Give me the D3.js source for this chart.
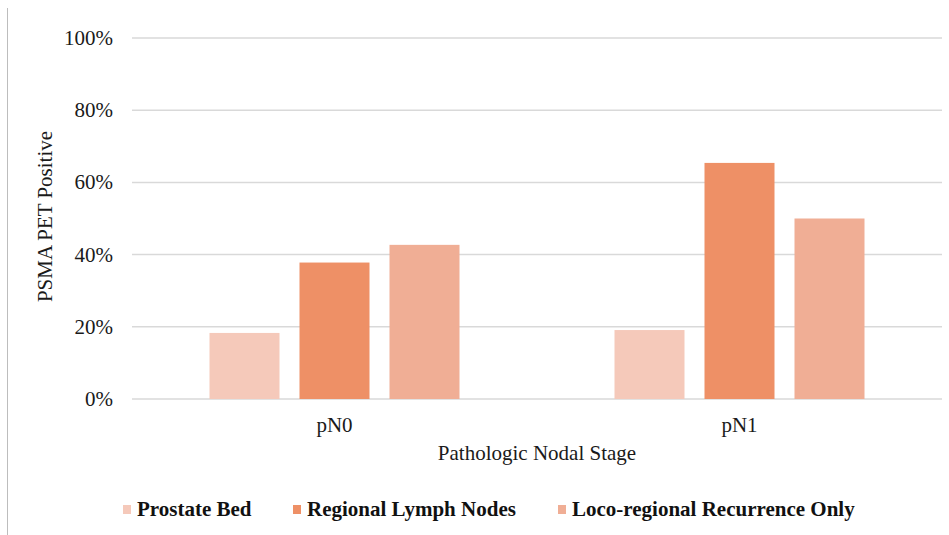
<!DOCTYPE html>
<html>
<head>
<meta charset="utf-8">
<script src="https://cdn.jsdelivr.net/npm/d3@7"></script>
<style>
  body { margin: 0; background: #fff; }
  svg { display: block; font-family: "Liberation Serif", "Times New Roman", serif; }
</style>
</head>
<body>
<svg id="chart" width="949" height="535"></svg>
<script>
  var categories = ["pN0", "pN1"];
  var seriesNames = ["Prostate Bed", "Regional Lymph Nodes", "Loco-regional Recurrence Only"];
  var prostateBed = [18.3, 19.1];
  var regionalLymphNodes = [37.8, 65.4];
  var locoRegionalOnly = [42.7, 50.0];
  var yTicks = [0, 20, 40, 60, 80, 100];

  var seriesValues = [prostateBed, regionalLymphNodes, locoRegionalOnly];
  var colors = d3.scaleOrdinal(seriesNames, ["#f5c9ba", "#ee9066", "#f0ae95"]);

  var width = 949, height = 535;
  var x0 = 132, x1 = 942, y0 = 399, y1 = 38;

  var chart = d3.select("#chart");

  // left border line of the figure
  chart.append("line")
    .attr("x1", 7.5).attr("x2", 7.5)
    .attr("y1", 8).attr("y2", height)
    .attr("stroke", "#bdbdbd").attr("stroke-width", 1);

  var x = d3.scaleBand().domain(categories).range([x0, x1]);
  var groupWidth = 250;
  var xInner = d3.scaleBand().domain(seriesNames)
    .range([(x.bandwidth() - groupWidth) / 2, (x.bandwidth() + groupWidth) / 2])
    .paddingInner(20 / 90);
  var y = d3.scaleLinear().domain([0, 100]).range([y0, y1]);

  // gridlines
  chart.append("g")
    .attr("stroke", "#d9d9d9")
    .attr("stroke-width", 1.5)
    .selectAll("line").data(yTicks).enter().append("line")
    .attr("x1", x0).attr("x2", x1)
    .attr("y1", function(d) { return y(d) })
    .attr("y2", function(d) { return y(d) });

  // y tick labels
  chart.append("g")
    .attr("fill", "#1a1a1a")
    .attr("font-size", 21)
    .attr("text-anchor", "end")
    .selectAll("text").data(yTicks).enter().append("text")
    .attr("x", 113)
    .attr("y", function(d) { return y(d) + 7 })
    .text(function(d) { return d + "%" });

  // bars
  var rows = categories.map(function(c, ci) {
    return seriesNames.map(function(s, si) {
      return { category: c, series: s, value: seriesValues[si][ci] };
    });
  });

  chart.append("g").selectAll("g").data(rows).enter().append("g")
    .attr("transform", function(d) { return "translate(" + x(d[0].category) + ",0)" })
    .selectAll("rect").data(function(d) { return d }).enter().append("rect")
    .attr("x", function(d) { return xInner(d.series) })
    .attr("width", xInner.bandwidth())
    .attr("y", function(d) { return y(d.value) })
    .attr("height", function(d) { return y(0) - y(d.value) })
    .attr("fill", function(d) { return colors(d.series) });

  // category labels
  chart.append("g")
    .attr("fill", "#1a1a1a")
    .attr("font-size", 21)
    .attr("text-anchor", "middle")
    .selectAll("text").data(categories).enter().append("text")
    .attr("x", function(d) { return x(d) + x.bandwidth() / 2 })
    .attr("y", 432)
    .text(function(d) { return d });

  // axis titles
  chart.append("text")
    .attr("x", (x0 + x1) / 2)
    .attr("y", 460)
    .attr("text-anchor", "middle")
    .attr("font-size", 21)
    .attr("fill", "#1a1a1a")
    .text("Pathologic Nodal Stage");

  chart.append("text")
    .attr("transform", "translate(52," + ((y0 + y1) / 2 - 2) + ") rotate(-90)")
    .attr("text-anchor", "middle")
    .attr("font-size", 21)
    .attr("fill", "#1a1a1a")
    .text("PSMA PET Positive");

  // legend
  var legendX = [123, 293, 558];
  var legend = chart.append("g")
    .selectAll("g").data(seriesNames).enter().append("g")
    .attr("transform", function(d, i) { return "translate(" + legendX[i] + ",505)" });
  legend.append("rect")
    .attr("width", 8).attr("height", 9)
    .attr("fill", function(d) { return colors(d) });
  legend.append("text")
    .attr("x", 14)
    .attr("y", 11)
    .attr("font-size", 21)
    .attr("font-weight", "bold")
    .attr("fill", "#111")
    .text(function(d) { return d });
</script>
</body>
</html>
